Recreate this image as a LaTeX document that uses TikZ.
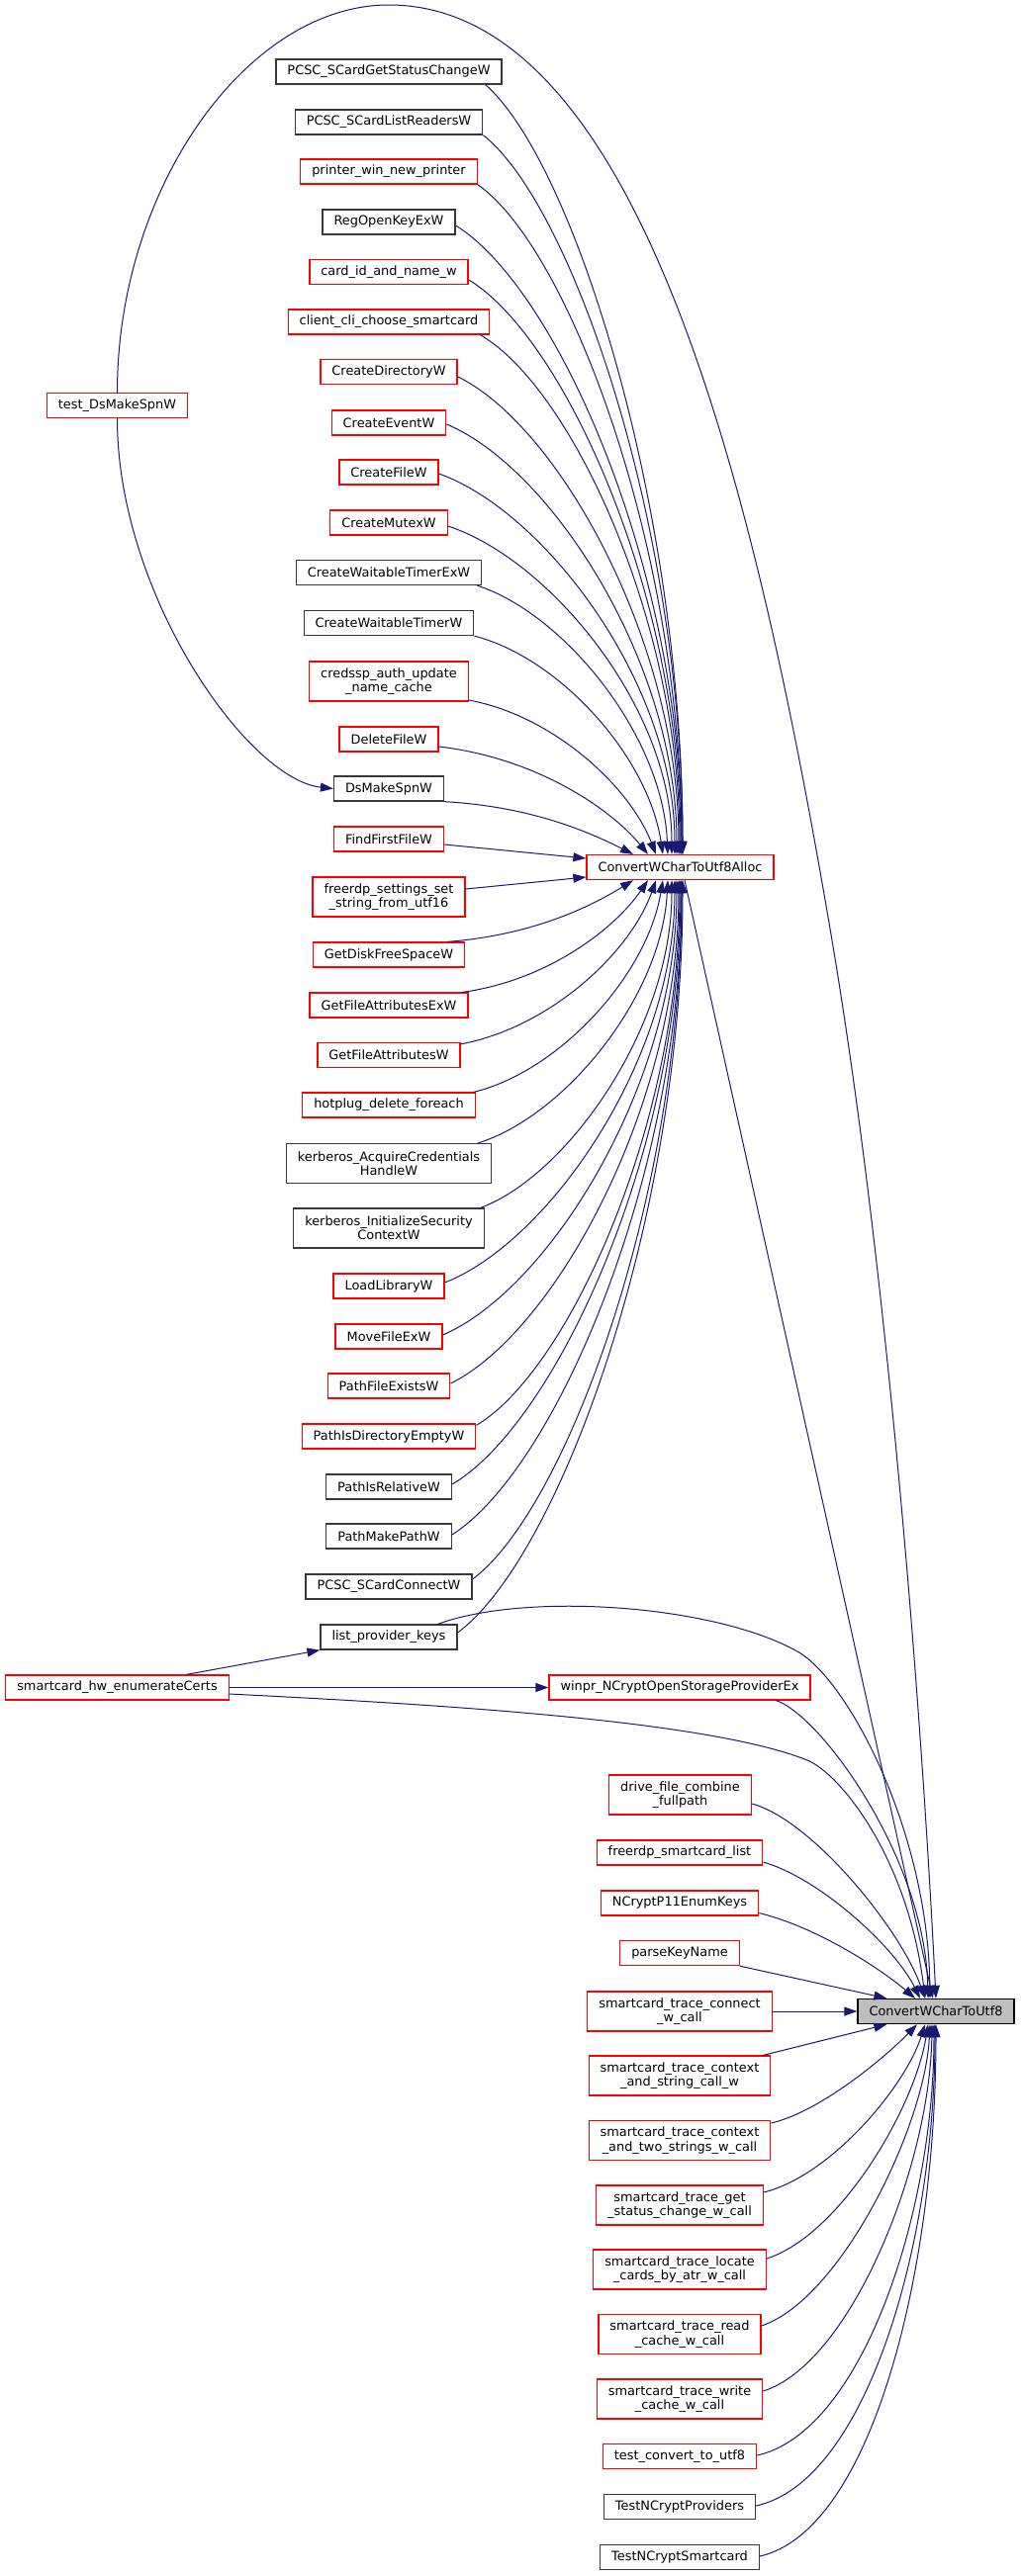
\documentclass[tikz,border=0pt]{standalone}
\usepackage{fontspec}
\usetikzlibrary{arrows.meta,calc}
\newfontfamily\dv{DejaVu Sans}
\definecolor{mblue}{HTML}{191970}
\definecolor{grey25}{HTML}{383838}
\definecolor{grey75}{HTML}{BFBFBF}
\tikzset{
  box/.style={draw, line width=1.3pt, inner xsep=11.5pt, inner ysep=0pt, minimum height=25pt,
    font=\dv\fontsize{12.9}{14.2}\selectfont, align=center, fill=white},
  rb/.style={box, draw=red},
  kb/.style={box, draw=grey25},
  two/.style={minimum height=40pt},
  edge/.style={draw=mblue, line width=1pt, -{Triangle[length=13pt,width=9pt]}},
}
\begin{document}
\begin{tikzpicture}[x=1pt,y=-1pt]
\fill[white] (0,0) rectangle (1031,2605);
\useasboundingbox (0,0) rectangle (1031,2605);
% rank 0
\node[rb] (tds) at (118.5,410) {test\_DsMakeSpnW};
\node[rb] (hw) at (118.5,1706.5) {smartcard\_hw\_enumerateCerts};
% rank 1
\node[kb] (n1) at (393,72.5) {PCSC\_SCardGetStatusChangeW};
\node[kb] (n2) at (393,123.5) {PCSC\_SCardListReadersW};
\node[rb] (n3) at (393,173.5) {printer\_win\_new\_printer};
\node[kb] (n4) at (393,224.5) {RegOpenKeyExW};
\node[rb] (n5) at (393,275) {card\_id\_and\_name\_w};
\node[rb] (n6) at (393,325.5) {client\_cli\_choose\_smartcard};
\node[rb] (n7) at (393,376) {CreateDirectoryW};
\node[rb] (n8) at (393,427.5) {CreateEventW};
\node[rb] (n9) at (393,477.5) {CreateFileW};
\node[rb] (n10) at (393,528.5) {CreateMutexW};
\node[kb] (n11) at (393,579) {CreateWaitableTimerExW};
\node[kb] (n12) at (393,630) {CreateWaitableTimerW};
\node[rb,two] (n13) at (393,689) {credssp\_auth\_update\\\_name\_cache};
\node[rb] (n14) at (393,747.5) {DeleteFileW};
\node[kb] (n15) at (393,797.5) {DsMakeSpnW};
\node[rb] (n16) at (393,848.5) {FindFirstFileW};
\node[rb,two] (n17) at (393,907) {freerdp\_settings\_set\\\_string\_from\_utf16};
\node[rb] (n18) at (393,965.5) {GetDiskFreeSpaceW};
\node[rb] (n19) at (393,1016.5) {GetFileAttributesExW};
\node[rb] (n20) at (393,1067) {GetFileAttributesW};
\node[rb] (n21) at (393,1117.5) {hotplug\_delete\_foreach};
\node[kb,two] (n22) at (393,1176.5) {kerberos\_AcquireCredentials\\HandleW};
\node[kb,two] (n23) at (393,1242) {kerberos\_InitializeSecurity\\ContextW};
\node[rb] (n24) at (393,1300.5) {LoadLibraryW};
\node[rb] (n25) at (393,1351.5) {MoveFileExW};
\node[rb] (n26) at (393,1401.5) {PathFileExistsW};
\node[rb] (n27) at (393,1452.5) {PathIsDirectoryEmptyW};
\node[kb] (n28) at (393,1503.5) {PathIsRelativeW};
\node[kb] (n29) at (393,1553.5) {PathMakePathW};
\node[kb] (n30) at (393,1604.5) {PCSC\_SCardConnectW};
\node[kb] (n31) at (393,1655.5) {list\_provider\_keys};
% rank 2
\node[rb] (alloc) at (687.5,877) {ConvertWCharToUtf8Alloc};
\node[rb] (winpr) at (687,1706.5) {winpr\_NCryptOpenStorageProviderEx};
\node[rb,two] (drive) at (687.5,1815) {drive\_file\_combine\\\_fullpath};
\node[rb] (fsl) at (687,1873.5) {freerdp\_smartcard\_list};
\node[rb] (ncr) at (687,1924.5) {NCryptP11EnumKeys};
\node[rb] (pk) at (687,1975) {parseKeyName};
\node[rb,two] (conn) at (687,2034) {smartcard\_trace\_connect\\\_w\_call};
\node[rb,two] (ctxs) at (687,2099) {smartcard\_trace\_context\\\_and\_string\_call\_w};
\node[rb,two] (ctxt) at (687,2164.5) {smartcard\_trace\_context\\\_and\_two\_strings\_w\_call};
\node[rb,two] (gsc) at (687,2230) {smartcard\_trace\_get\\\_status\_change\_w\_call};
\node[rb,two] (loc) at (687,2295) {smartcard\_trace\_locate\\\_cards\_by\_atr\_w\_call};
\node[rb,two] (rdc) at (687,2360.5) {smartcard\_trace\_read\\\_cache\_w\_call};
\node[rb,two] (wrc) at (687,2426) {smartcard\_trace\_write\\\_cache\_w\_call};
\node[rb] (tcu) at (687,2484) {test\_convert\_to\_utf8};
\node[kb] (tnp) at (687,2535) {TestNCryptProviders};
\node[kb] (tns) at (687,2586) {TestNCryptSmartcard};
% rank 3
\node[box, draw=black, fill=grey75] (utf8) at (946,2034) {ConvertWCharToUtf8};

% ---- edges into ConvertWCharToUtf8Alloc (from above)
\draw[edge] ($(n1.south east)+(-17,0)$) .. controls (580,164) and (690,514.5) .. ($(alloc.north)+(2.5,0)$);
\draw[edge] (n2.south east) .. controls (579,208) and (690,536.5) .. ($(alloc.north)+(2.5,0)$);
\draw[edge] (n3.south east) .. controls (576,252) and (689,558.5) .. ($(alloc.north)+(1.5,0)$);
\draw[edge] ($(n4.east)+(0,3.5)$) .. controls (563.6,291.7) and (689,578.4) .. ($(alloc.north)+(1.5,0)$);
\draw[edge] ($(n5.east)+(0,8)$) .. controls (570,341) and (688,603) .. ($(alloc.north)+(0.5,0)$);
\draw[edge] ($(n6.south east)+(-10,0)$) .. controls (577,391.6) and (687,628) .. ($(alloc.north)+(-0.5,0)$);
\draw[edge] ($(n7.east)+(0,5)$) .. controls (563,429.4) and (686,647.2) .. ($(alloc.north)+(-1.5,0)$);
\draw[edge] ($(n8.east)+(0,1.5)$) .. controls (556,472.6) and (684,668.8) .. ($(alloc.north)+(-3.5,0)$);
\draw[edge] ($(n9.east)+(0,1.5)$) .. controls (551,517.6) and (682,691.3) .. ($(alloc.north)+(-5.5,0)$);
\draw[edge] ($(n10.east)+(0,3.5)$) .. controls (554.7,565.3) and (679,715.2) .. ($(alloc.north)+(-8.5,0)$);
\draw[edge] ($(n11.south east)+(-5,0)$) .. controls (569.4,620.2) and (669.6,742.6) .. ($(alloc.north)+(-12.5,0)$);
\draw[edge] (n12.south east) .. controls (565.5,665.2) and (655.2,765) .. ($(alloc.north)+(-17.5,0)$);
\draw[edge] ($(n13.east)+(0,19)$) .. controls (558.5,723.7) and (635.8,794.3) .. ($(alloc.north)+(-24.5,0)$);
\draw[edge] ($(n14.east)+(0,7.5)$) .. controls (539,766) and (615,815.5) .. ($(alloc.north)+(-32.5,0)$);
\draw[edge] (n15.south east) .. controls (535,815.5) and (593.2,840.25) .. ($(alloc.north)+(-47.5,0)$);
% from the side
\draw[edge] ($(n16.east)+(0,5.5)$) -- ($(alloc.west)+(0,-9)$);
\draw[edge] ($(n17.east)+(0,-8)$) -- ($(alloc.west)+(0,10)$);
% from below
\draw[edge] ($(n18.north east)+(-18,0)$) .. controls (537.2,945.75) and (595.7,917.6) .. ($(alloc.south)+(-47.5,0)$);
\draw[edge] ($(n19.north east)+(-6,0)$) .. controls (552.2,991.65) and (620.2,940.6) .. ($(alloc.south)+(-32.5,0)$);
\draw[edge] ($(n20.north east)+(0,2)$) .. controls (554.7,1039.35) and (636.7,964.4) .. ($(alloc.south)+(-24.5,0)$);
\draw[edge] ($(n21.north east)+(-2,0)$) .. controls (565,1083.45) and (654,986.5) .. ($(alloc.south)+(-17.5,0)$);
\draw[edge] ($(n22.north east)+(-14,0)$) .. controls (569.4,1129.35) and (668.7,1009.4) .. ($(alloc.south)+(-12.5,0)$);
\draw[edge] ($(n23.north east)+(-4,0)$) .. controls (573.4,1188.75) and (679,1039.1) .. ($(alloc.south)+(-8.5,0)$);
\draw[edge] ($(n24.east)+(0,-3.5)$) .. controls (553.9,1256.25) and (682,1072.9) .. ($(alloc.south)+(-5.5,0)$);
\draw[edge] ($(n25.east)+(0,-1.5)$) .. controls (554.8,1303.95) and (684,1096.7) .. ($(alloc.south)+(-3.5,0)$);
\draw[edge] ($(n26.east)+(0,-2.5)$) .. controls (559.5,1348.05) and (686,1118.8) .. ($(alloc.south)+(-1.5,0)$);
\draw[edge] ($(n27.north east)+(0,2)$) .. controls (573.7,1386.75) and (687,1138.1) .. ($(alloc.south)+(-0.5,0)$);
\draw[edge] ($(n28.east)+(0,-2.5)$) .. controls (561,1439.85) and (688,1164.7) .. ($(alloc.south)+(0.5,0)$);
\draw[edge] ($(n29.east)+(0,-1.5)$) .. controls (561.4,1485.75) and (689,1187.6) .. ($(alloc.south)+(1.5,0)$);
\draw[edge] ($(n30.east)+(0,-7.5)$) .. controls (572.4,1526.25) and (689,1207.9) .. ($(alloc.south)+(1.5,0)$);
\draw[edge] ($(n31.east)+(0,-4.5)$) .. controls (565.2,1574.85) and (690,1232.2) .. ($(alloc.south)+(2.5,0)$);

% ---- test_DsMakeSpnW edges
\draw[edge] (tds.south) .. controls (118.5,600) and (250,788) .. (n15.west);
\draw[edge] (tds.north) .. controls (118.5,190) and (250,5) .. (393,5)
  .. controls (653,5) and (768.6,525) .. (840,945)
  .. controls (891,1245) and (928.5,1671) .. (utf8.north);

% ---- smartcard_hw_enumerateCerts edges
\draw[edge] ($(hw.north)+(70,0)$) -- (n31.south west);
\draw[edge] (hw.east) -- (winpr.west);
\draw[edge] ($(hw.east)+(0,6.5)$) .. controls (450,1724) and (716,1740) .. (816,1780)
  .. controls (850,1794) and (918,1880) .. ($(utf8.north)+(-11,0)$);

% ---- list_provider_keys -> ConvertWCharToUtf8
\draw[edge] ($(n31.north east)+(-20,0)$) .. controls (530,1610) and (720,1622) .. (806,1670)
  .. controls (856,1698) and (938,1850) .. ($(utf8.north)+(-6,0)$);

% ---- rank 2 -> ConvertWCharToUtf8
\draw[edge] ($(alloc.south)+(4.5,0)$) -- ($(utf8.north)+(-3,0)$);
\draw[edge] ($(winpr.south east)+(-35,0)$) .. controls (830,1735) and (935,1880) .. ($(utf8.north)+(-8,0)$);
\draw[edge] ($(drive.east)+(0,9)$) .. controls (820,1840) and (910,1950) .. ($(utf8.north)+(-11,0)$);
\draw[edge] ($(fsl.east)+(0,9.5)$) .. controls (830,1900) and (905,1970) .. ($(utf8.north)+(-16,0)$);
\draw[edge] ($(ncr.east)+(0,10)$) .. controls (830,1950) and (895,1995) .. ($(utf8.north)+(-21,0)$);
\draw[edge] (pk.south east) -- ($(utf8.north west)+(30,0)$);
\draw[edge] (conn.east) -- (utf8.west);
\draw[edge] ($(ctxs.north east)+(-8,0)$) -- ($(utf8.south west)+(30,0)$);
\draw[edge] ($(ctxt.east)+(0,-17.5)$) .. controls (830,2135) and (895,2080) .. ($(utf8.south)+(-19,0)$);
\draw[edge] ($(gsc.east)+(0,-13)$) .. controls (840,2200) and (915,2110) .. ($(utf8.south)+(-11,0)$);
\draw[edge] ($(loc.east)+(0,-11)$) .. controls (850,2260) and (925,2130) .. ($(utf8.south)+(-8,0)$);
\draw[edge] ($(rdc.east)+(0,-8.5)$) .. controls (850,2325) and (935,2150) .. ($(utf8.south)+(-6,0)$);
\draw[edge] ($(wrc.east)+(0,-8)$) .. controls (860,2390) and (940,2190) .. ($(utf8.south)+(-4,0)$);
\draw[edge] ($(tcu.east)+(0,-1)$) .. controls (870,2460) and (944,2240) .. ($(utf8.south)+(-2,0)$);
\draw[edge] ($(tnp.east)+(0,-1)$) .. controls (875,2510) and (945,2270) .. ($(utf8.south)+(-1,0)$);
\draw[edge] ($(tns.east)+(0,-1)$) .. controls (880,2560) and (946,2300) .. (utf8.south);
\end{tikzpicture}
\end{document}
